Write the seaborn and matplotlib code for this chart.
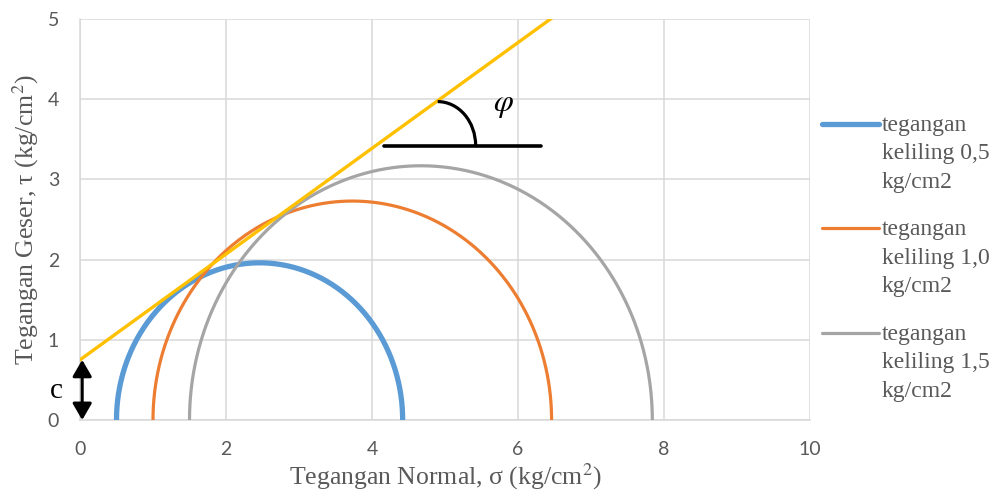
import numpy as np
import pandas as pd
import matplotlib
matplotlib.use("Agg")
import matplotlib.pyplot as plt
import seaborn as sns
from matplotlib.patches import Arc

# Mohr circles: confining stress (sigma3) and major principal stress (sigma1), kg/cm2
sigma3 = [0.5, 1.0, 1.5]
sigma1 = [4.42, 6.46, 7.84]
labels = ["tegangan\nkeliling 0,5\nkg/cm2",
          "tegangan\nkeliling 1,0\nkg/cm2",
          "tegangan\nkeliling 1,5\nkg/cm2"]
colors = ["#5B9BD5", "#ED7D31", "#A5A5A5"]
widths = [3.8, 2.3, 2.3]

# Failure envelope: cohesion c (kg/cm2) and friction angle phi (deg)
cohesion = 0.75
phi_deg = 33.4

x_ticks = [0, 2, 4, 6, 8, 10]
y_ticks = [0, 1, 2, 3, 4, 5]

sns.set_theme(style="white")
plt.rcParams["mathtext.fontset"] = "stix"

TXT = "#595959"
GRID = "#D9D9D9"
SERIF = "Liberation Serif"
DPI = 100

fig = plt.figure(figsize=(9.96, 4.98), dpi=DPI)
ax = fig.add_axes([80 / 996, 78 / 498, 730 / 996, 401 / 498])

# Semicircles built from each stress pair
for s3, s1, lab, col, lw in zip(sigma3, sigma1, labels, colors, widths):
    centre = (s1 + s3) / 2
    radius = (s1 - s3) / 2
    theta = np.linspace(np.pi, 0, 300)
    df = pd.DataFrame({"sigma": centre + radius * np.cos(theta),
                       "tau": radius * np.sin(theta)})
    sns.lineplot(data=df, x="sigma", y="tau", sort=False, estimator=None,
                 color=col, lw=lw, label=lab, ax=ax, zorder=3)

# Coulomb envelope tau = c + sigma * tan(phi)
env_x = np.array([0.0, 10.0])
env = pd.DataFrame({"sigma": env_x,
                    "tau": cohesion + env_x * np.tan(np.radians(phi_deg))})
sns.lineplot(data=env, x="sigma", y="tau", color="#FFC000", lw=2.4,
             ax=ax, zorder=4, legend=False)

ax.set_xlim(0, 10)
ax.set_ylim(0, 5)
ax.set_xticks(x_ticks)
ax.set_yticks(y_ticks)
ax.grid(True, color=GRID, lw=1.1)
ax.set_axisbelow(True)
for side in ["top", "right"]:
    ax.spines[side].set_visible(False)
for side in ["left", "bottom"]:
    ax.spines[side].set_color(GRID)
    ax.spines[side].set_linewidth(1.1)
ax.tick_params(length=0, pad=15, labelsize=14, labelcolor=TXT)
for t in ax.get_xticklabels() + ax.get_yticklabels():
    t.set_fontfamily("Lato")

ax.set_xlabel("Tegangan Normal, σ (kg/cm$^2$)", family=SERIF, fontsize=18.5,
              color=TXT)
ax.set_ylabel("Tegangan Geser, τ (kg/cm$^2$)", family=SERIF, fontsize=18.5,
              color=TXT)
ax.xaxis.set_label_coords(0.5, -0.103)
ax.yaxis.set_label_coords(-0.054, 0.5)

# Cohesion marker
ax.annotate("", xy=(0.03, 0), xytext=(0.03, cohesion),
            arrowprops=dict(arrowstyle="<|-|>,head_length=0.5,head_width=0.29",
                            mutation_scale=20, color="black", lw=2.2,
                            shrinkA=0, shrinkB=0), zorder=5)
ax.text(-0.32, 0.36, "c", family=SERIF, fontsize=21, color="black",
        ha="center", va="center", clip_on=False)

# Friction angle marker
ax.plot([4.16, 6.32], [3.42, 3.42], color="black", lw=2.6, zorder=5)
ax.add_patch(Arc((4.90, 3.42), 1.04, 1.10, theta1=0, theta2=90,
                 color="black", lw=2.3, zorder=5))
ax.text(5.80, 3.93, r"$\varphi$", fontsize=23, color="black",
        ha="center", va="center")

handles, labs = ax.get_legend_handles_labels()
leg = ax.legend(handles, labs, loc="upper left",
                bbox_to_anchor=(822 / 996, 1 - 115 / 498),
                bbox_transform=fig.transFigure, frameon=False,
                prop={"family": SERIF, "size": 17}, labelcolor=TXT,
                handlelength=2.4, handletextpad=0.14, labelspacing=1.13,
                borderpad=0, borderaxespad=0)
for t in leg.get_texts():
    t.set_linespacing(1.46)

# Line each legend swatch up with the first row of its label
fig.canvas.draw()
renderer = fig.canvas.get_renderer()
for ln, txt in zip(leg.get_lines(), leg.get_texts()):
    tb = txt.get_window_extent(renderer)
    lb = ln.get_window_extent(renderer)
    target = tb.y1 - 9
    cur = (lb.y0 + lb.y1) / 2
    ln.set_ydata(np.asarray(ln.get_ydata()) + (target - cur) * 72 / DPI)

fig.savefig("out.png", dpi=DPI)
